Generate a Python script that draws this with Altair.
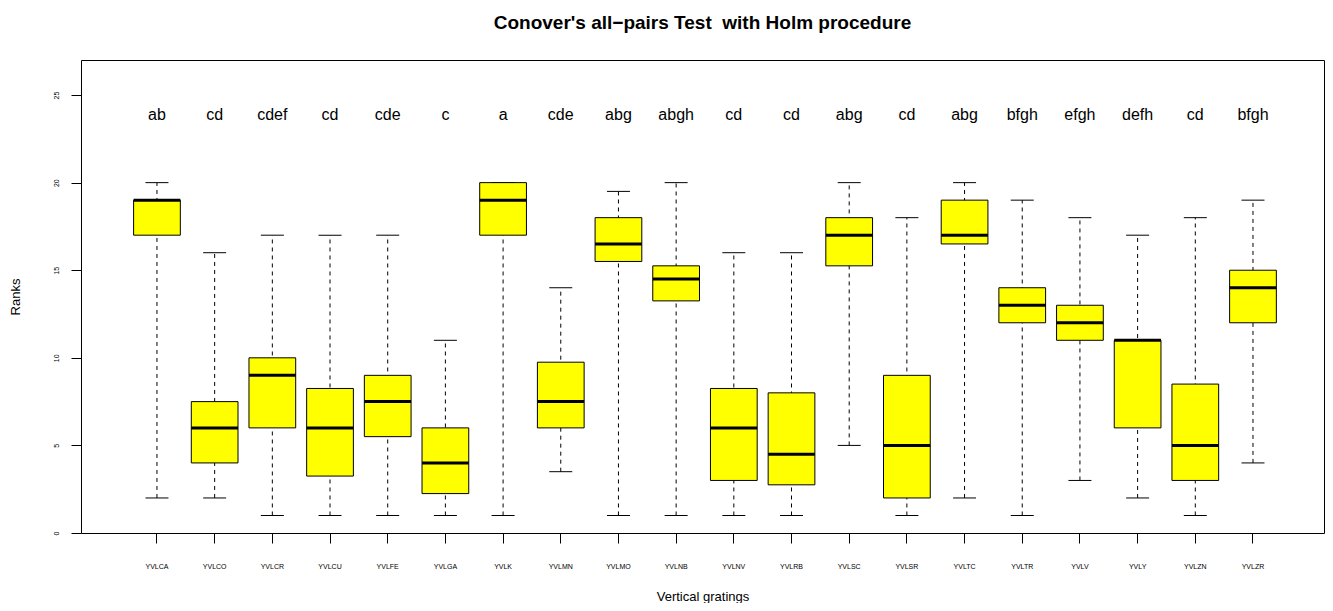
import altair as alt
import pandas as pd

groups = ["YVLCA", "YVLCO", "YVLCR", "YVLCU", "YVLFE", "YVLGA", "YVLK", "YVLMN", "YVLMO", "YVLNB",
          "YVLNV", "YVLRB", "YVLSC", "YVLSR", "YVLTC", "YVLTR", "YVLV", "YVLY", "YVLZN", "YVLZR"]
lower_whisker = [2, 2, 1, 1, 1, 1, 1, 3.5, 1, 1, 1, 1, 5, 1, 2, 1, 3, 2, 1, 4]
q1 = [17, 4, 6, 3.25, 5.5, 2.25, 17, 6, 15.5, 13.25, 3, 2.75, 15.25, 2, 16.5, 12, 11, 6, 3, 12]
median = [19, 6, 9, 6, 7.5, 4, 19, 7.5, 16.5, 14.5, 6, 4.5, 17, 5, 17, 13, 12, 11, 5, 14]
q3 = [19, 7.5, 10, 8.25, 9, 6, 20, 9.75, 18, 15.25, 8.25, 8, 18, 9, 19, 14, 13, 11, 8.5, 15]
upper_whisker = [20, 16, 17, 17, 17, 11, 20, 14, 19.5, 20, 16, 16, 20, 18, 20, 19, 18, 17, 18, 19]
letters = ["ab", "cd", "cdef", "cd", "cde", "c", "a", "cde", "abg", "abgh",
           "cd", "cd", "abg", "cd", "abg", "bfgh", "efgh", "defh", "cd", "bfgh"]
letter_y = 24
y_ticks = [0, 5, 10, 15, 20, 25]

df = pd.DataFrame({
    "group": groups, "low": lower_whisker, "q1": q1, "median": median,
    "q3": q3, "high": upper_whisker, "letter": letters,
    "ly": [letter_y] * len(groups),
})

FONT = "Liberation Sans"

x_enc = alt.X(
    "group:N", sort=groups,
    scale=alt.Scale(paddingInner=0.19, paddingOuter=0.869, align=0.5247),
    axis=alt.Axis(
        title="Vertical gratings", domain=False, grid=False, tickSize=10,
        tickColor="black", labelFontSize=7, labelAngle=0, labelPadding=19,
        labelColor="black", labelFont=FONT, titleFont=FONT, titleFontSize=13,
        titleFontWeight="normal", titleColor="black", titleY=67,
        titleBaseline="alphabetic",
    ),
)
y_scale = alt.Scale(domain=[0, 27], nice=False, zero=False)
y_axis = alt.Axis(
    title="Ranks", values=y_ticks, domain=False, grid=False, tickSize=10,
    tickColor="black", labelFontSize=7, labelAngle=270, labelPadding=12,
    labelColor="black", labelFont=FONT, titleFont=FONT, titleFontSize=13,
    titleFontWeight="normal", titleColor="black", titleX=-66, titleY=236.5,
    titleAngle=270, titleAlign="center", titleBaseline="middle",
)

base = alt.Chart(df)

whisker = base.mark_rule(color="black", strokeWidth=1, strokeDash=[4, 4]).encode(
    x=x_enc, y=alt.Y("low:Q", scale=y_scale, axis=y_axis), y2="high:Q"
)
cap_low = base.mark_tick(color="black", size=23, thickness=1, opacity=1).encode(
    x=x_enc, y=alt.Y("low:Q", scale=y_scale, axis=y_axis)
)
cap_high = base.mark_tick(color="black", size=23, thickness=1, opacity=1).encode(
    x=x_enc, y=alt.Y("high:Q", scale=y_scale, axis=y_axis)
)
box = base.mark_bar(fill="#FFFF00", stroke="black", strokeWidth=1, opacity=1).encode(
    x=x_enc, y=alt.Y("q1:Q", scale=y_scale, axis=y_axis), y2="q3:Q"
)
med = base.mark_tick(color="black", size=46.7, thickness=3, opacity=1).encode(
    x=x_enc, y=alt.Y("median:Q", scale=y_scale, axis=y_axis)
)
txt = base.mark_text(fontSize=16, font=FONT, color="black", baseline="alphabetic", dy=7).encode(
    x=x_enc, y=alt.Y("ly:Q", scale=y_scale, axis=y_axis), text="letter:N"
)

chart = alt.layer(whisker, cap_low, cap_high, box, med, txt).properties(
    width=1243, height=473,
    title=alt.Title(
        "Conover's all\u2212pairs Test \u00a0with Holm procedure",
        fontSize=19, fontWeight="bold", font=FONT, color="black",
        anchor="middle", baseline="alphabetic", offset=12,
    ),
    autosize=alt.AutoSizeParams(type="none"),
    padding={"left": 73, "top": 52, "right": 1, "bottom": 70},
    background="white",
).configure_view(stroke="black", strokeWidth=1)

chart.save("out.html", embed_options={"renderer": "svg", "actions": False})
